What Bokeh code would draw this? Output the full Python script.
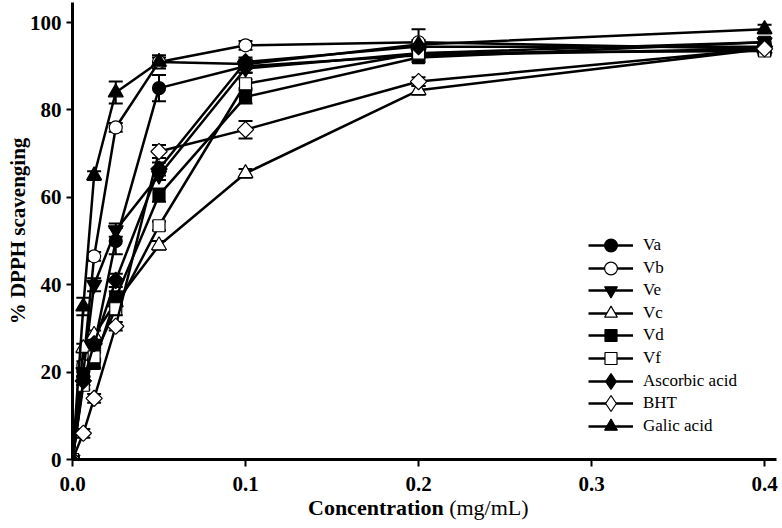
import math
from bokeh.plotting import figure
from bokeh.models import ColumnDataSource, Whisker, TeeHead, FixedTicker, Legend, LegendItem, Div
from bokeh.layouts import column
from bokeh.embed import file_html
from bokeh.resources import INLINE

# ---- data ----
conc = [0, 0.00625, 0.0125, 0.025, 0.05, 0.1, 0.2, 0.4]
x_ticks = [0.0, 0.1, 0.2, 0.3, 0.4]
x_tick_labels = ["0.0", "0.1", "0.2", "0.3", "0.4"]
y_ticks = [0, 20, 40, 60, 80, 100]

names = ["Va", "Vb", "Ve", "Vc", "Vd", "Vf", "Ascorbic acid", "BHT", "Galic acid"]
va = [0, 18, 26, 50, 85, 90, 92.5, 94]
vb = [0, 21.5, 46.5, 76, 91, 94.8, 95.5, 94]
ve = [0, 20, 40, 52.5, 65, 89.5, 93, 95.5]
vc = [0, 25.5, 28.5, 36, 49, 65.5, 84.5, 94]
vd = [0, 19, 22, 37, 60.5, 83, 92, 95.5]
vf = [0, 17, 23.5, 34.5, 53.5, 86, 93, 93.5]
ascorbic = [0, 18, 26.5, 41, 66.5, 91, 94.5, 94.5]
bht = [0, 6, 14, 30.5, 70.5, 75.5, 86.5, 94]
galic = [0, 35, 65, 84, 91, 90.5, 95, 98.5]

va_err = [0, 1, 1, 3, 3, 1.5, 1, 1]
vb_err = [0, 1, 1, 1, 1, 1, 3, 1]
ve_err = [0, 1, 1.5, 1.5, 1, 1, 1, 1]
vc_err = [0, 1, 1, 1, 1, 1, 1, 1]
vd_err = [0, 1, 1, 1.5, 1.5, 1.5, 1, 1]
vf_err = [0, 1, 1, 1.5, 1, 1, 1, 1]
ascorbic_err = [0, 1, 1, 1.5, 1.5, 1, 1, 1]
bht_err = [0, 1, 1, 1, 1.5, 2, 1, 1]
galic_err = [0, 2, 1, 2.5, 1.5, 1, 1, 1]

series = [va, vb, ve, vc, vd, vf, ascorbic, bht, galic]
errors = [va_err, vb_err, ve_err, vc_err, vd_err, vf_err, ascorbic_err, bht_err, galic_err]
markers = ["circle", "circle", "inverted_triangle", "triangle", "square", "square",
           "square", "square", "triangle"]
legend_markers = ["circle", "circle", "inverted_triangle", "triangle", "square", "square",
                  "diamond", "diamond", "triangle"]
angles = [0, 0, 0, 0, 0, 0, math.pi / 4, math.pi / 4, 0]
fills = ["black", "white", "black", "white", "black", "white", "black", "white", "black"]
sizes = [13, 13, 15, 15, 12, 12, 11.5, 11.5, 15]
legend_glyph_h = [32, 32, 32, 32, 30, 30, 40, 40, 32]

FONT = "Liberation Serif"

p = figure(width=782, height=502,
           x_range=(0, 0.4069), y_range=(0, 104.6),
           output_backend="svg", toolbar_location=None,
           min_border_left=72, min_border_right=6, min_border_top=2, min_border_bottom=43)
p.outline_line_color = None
p.xgrid.visible = False
p.ygrid.visible = False
p.background_fill_color = "white"
p.border_fill_color = "white"

for ax in (p.xaxis[0], p.yaxis[0]):
    ax.axis_line_width = 3
    ax.axis_line_color = "black"
    ax.major_tick_line_width = 2
    ax.major_tick_out = 7
    ax.major_tick_in = 0
    ax.minor_tick_out = 0
    ax.minor_tick_in = 0
    ax.major_label_text_font = FONT
    ax.major_label_text_font_style = "bold"
    ax.major_label_text_font_size = "21px"
    ax.major_label_text_color = "black"

p.xaxis.ticker = FixedTicker(ticks=x_ticks)
p.xaxis.major_label_overrides = {t: l for t, l in zip(x_ticks, x_tick_labels)}
p.xaxis.major_label_standoff = 10
p.yaxis.ticker = FixedTicker(ticks=y_ticks)
p.yaxis.major_tick_out = 6
p.yaxis.major_label_standoff = 5
p.yaxis.axis_label = "% DPPH scavenging"
p.yaxis.axis_label_text_font = FONT
p.yaxis.axis_label_text_font_style = "bold"
p.yaxis.axis_label_text_font_size = "21px"
p.yaxis.axis_label_text_color = "black"
p.yaxis.axis_label_standoff = -3

legend_first_center = 245   # screen px of first legend row
legend_pitch = 22.6
frame_bottom = 459

for i, (name, ys, err, mk, lmk, ang, fc, sz, gh) in enumerate(
        zip(names, series, errors, markers, legend_markers, angles, fills, sizes, legend_glyph_h)):
    src = ColumnDataSource(dict(x=conc, y=ys,
                                lower=[a - e for a, e in zip(ys, err)],
                                upper=[a + e for a, e in zip(ys, err)]))
    ln = p.line("x", "y", source=src, line_color="black", line_width=2.5)
    wk = Whisker(source=src, base="x", lower="lower", upper="upper",
                 line_color="black", line_width=2,
                 upper_head=TeeHead(size=14, line_width=2, line_color="black"),
                 lower_head=TeeHead(size=14, line_width=2, line_color="black"),
                 level="underlay")
    p.add_layout(wk)
    key = None
    if lmk != mk:
        # legend-shaped key, fully hidden beneath the rotated-square marker
        key = p.scatter("x", "y", source=src, marker=lmk, size=sz * 0.7,
                        fill_color=fc, line_color="black", line_width=1.2)
    sc = p.scatter("x", "y", source=src, marker=mk, size=sz, angle=ang,
                   fill_color=fc, line_color="black", line_width=1.2)
    if key is None:
        key = sc
    center = legend_first_center + i * legend_pitch
    loc_y = round(frame_bottom - (center + gh / 2))
    lg = Legend(items=[LegendItem(label=name, renderers=[ln, key])],
                location=(516, loc_y), orientation="vertical",
                border_line_color=None, background_fill_alpha=0,
                padding=0, margin=0, spacing=0,
                glyph_width=45, glyph_height=gh, label_height=gh,
                label_standoff=10,
                label_text_font=FONT, label_text_font_size="17px",
                label_text_color="black")
    p.add_layout(lg)

xlabel = Div(
    text=('<div style="position:relative; top:-6px; left:308px; '
          'font-family:\'Liberation Serif\'; font-size:22px; line-height:24px; color:black; '
          'white-space:nowrap;">'
          '<b>Concentration</b> (mg/mL)</div>'),
    width=782, height=24, margin=(0, 0, 0, 0))

layout = column(p, xlabel, spacing=0)
open("out.html", "w").write(file_html(layout, INLINE))
